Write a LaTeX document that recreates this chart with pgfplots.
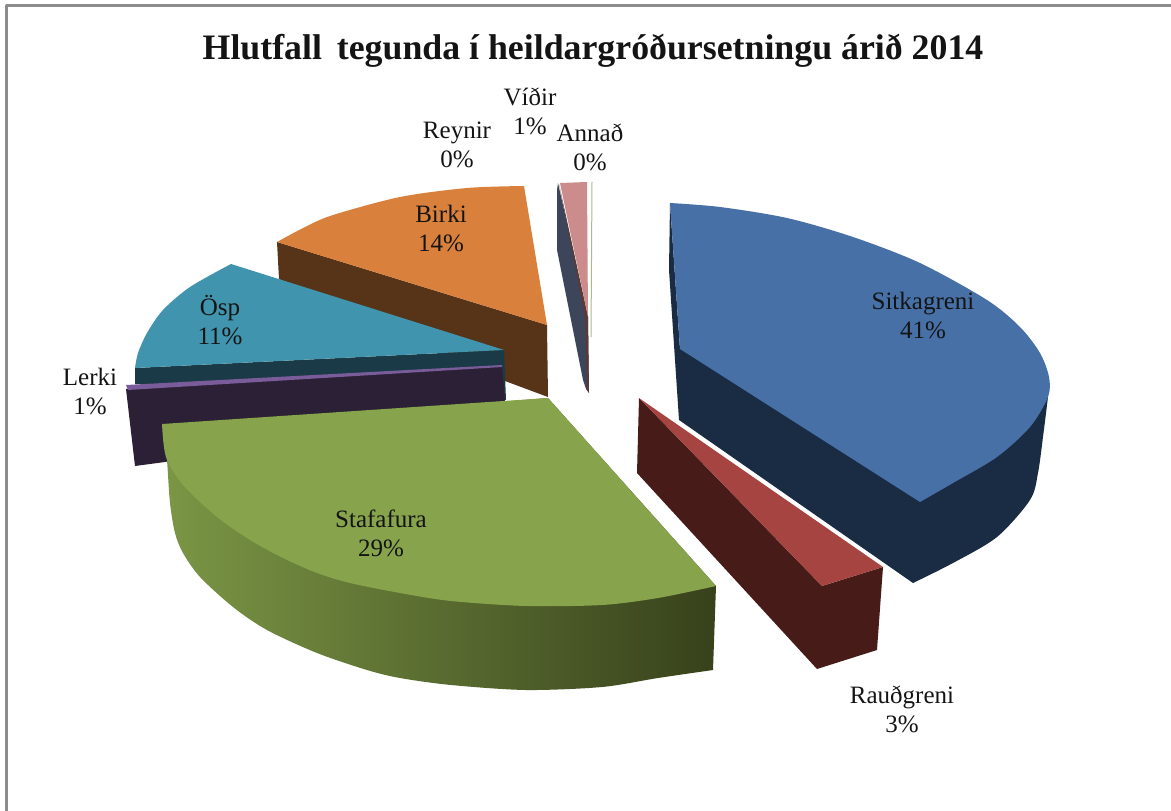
\documentclass[border=0pt]{standalone}
\usepackage{fontspec}
\usepackage{pgfplots}
\pgfplotsset{compat=1.18}
\setmainfont{Liberation Serif}
\definecolor{sitkaT}{HTML}{4670A6}
\definecolor{sitkaS}{HTML}{1A2C44}
\definecolor{raudT}{HTML}{A64442}
\definecolor{raudS}{HTML}{461B18}
\definecolor{stafT}{HTML}{87A44C}
\definecolor{stafL}{HTML}{7B9645}
\definecolor{stafR}{HTML}{37411B}
\definecolor{lerkT}{HTML}{7A5C9B}
\definecolor{lerkS}{HTML}{2B2036}
\definecolor{ospT}{HTML}{4094AD}
\definecolor{ospS}{HTML}{1B3A47}
\definecolor{birkT}{HTML}{D9813C}
\definecolor{birkS}{HTML}{573318}
\definecolor{vidS}{HTML}{3C4559}
\definecolor{annT}{HTML}{CD8C8C}
\definecolor{annS}{HTML}{5A3A38}
\definecolor{annG}{HTML}{A8BB88}
\definecolor{frame}{HTML}{8C8C8C}
\newcommand{\lab}{\fontsize{25}{29}\selectfont}
\tikzset{lbl/.style={font=\lab, align=center, text=black!92, inner sep=0pt}}
\begin{document}
\begin{tikzpicture}
\begin{axis}[
  scale only axis, width=1171pt, height=811pt,
  xmin=0, xmax=1171, ymin=0, ymax=811, y dir=reverse,
  hide axis, clip=true,
  every axis plot/.append style={draw=none, line join=round},
]
\path (axis cs:0,0) rectangle (axis cs:1171,811);
% frame
\addplot[draw=frame, line width=2.6pt] coordinates {(6.5,811)(6.5,5.3)(1171,5.3)};
% Birki side
\addplot[fill=birkS] coordinates {(277,242)(547,325)(548,397)(505,381)(279,279)} -- cycle;
% Birki top
\addplot[fill=birkT, smooth] coordinates {(277,242)(305,227)(333,215)(400,197)(467,188)(524,186)} -- (axis cs:547,325) -- cycle;
% Osp side
\addplot[fill=ospS] coordinates {(135,368)(504,350)(506,400)(135,384)} -- cycle;
% Osp top
\addplot[fill=ospT, smooth] coordinates {(231,264)(190,287)(163,310)(147,333)(138,353)(135,368)} -- (axis cs:504,350) -- cycle;
% Lerki side
\addplot[fill=lerkS] coordinates {(126,389)(502,366)(505,401)(400,420)(165,462)(135,466)} -- cycle;
% Lerki top
\addplot[fill=lerkT] coordinates {(126,385)(502,365)(502,367)(128,390)} -- cycle;
% Stafafura side
\addplot[left color=stafL, right color=stafR, smooth] coordinates {(164,430)(167,460)(170,503)(175,533)(183,553)(200,577)(233,607)(267,630)(317,653)(367,670)(400,678)(451,685)(526,690)(602,687)(658,678)(713,670)} -- (axis cs:716,586) -- (axis cs:548,398) -- cycle;
% Stafafura top
\addplot[fill=stafT, smooth] coordinates {(716,586)(658,598)(602,605)(526,606)(451,601)(400,593)(350,583)(317,573)(283,558)(250,540)(217,517)(183,485)(166,457)(162,424)} -- (axis cs:548,398) -- cycle;
% Annad and Vidir
\addplot[draw=annG, line width=1pt] coordinates {(592,182)(591,337)};
\addplot[fill=vidS] coordinates {(558,183)(557,190)(557,250)(583,380)(586,389)(589,393)(588,317)} -- cycle;
\addplot[fill=annS] coordinates {(559,184)(588,317)(589,393)(587,390)(585,317)} -- cycle;
\addplot[fill=annT] coordinates {(560,183)(587,182)(588,317)} -- cycle;
% Sitkagreni side
\addplot[fill=sitkaS, smooth] coordinates {(913,583)(953,563)(997,537)(1030,500)(1038,473)(1043.5,433)(1048,397)} -- (axis cs:680,349) -- (axis cs:670,203) -- (axis cs:669,270) -- (axis cs:679,420) -- cycle;
% Sitkagreni top
\addplot[fill=sitkaT, smooth] coordinates {(670,203)(720,207)(787,218)(853,237)(920,263)(987,300)(1020,327)(1040,353)(1049,377)(1048,397)(1030,427)(997,457)(953,483)(920,502)} -- (axis cs:680,349) -- cycle;
% Raudgreni side
\addplot[fill=raudS] coordinates {(639,398)(822,586)(883,567)(877,650)(817,669)(637,473)} -- cycle;
% Raudgreni top
\addplot[fill=raudT] coordinates {(639,398)(883,567)(822,586)} -- cycle;
% texts
\node[font=\bfseries\fontsize{35.8}{40}\selectfont, inner sep=0pt, text=black!92] at (axis cs:593,51) {Hlutfall\, tegunda í heildargróðursetningu árið 2014};
\node[lbl] at (axis cs:530,111) {Víðir\\1\%};
\node[lbl] at (axis cs:457,145) {Reynir\\0\%};
\node[lbl] at (axis cs:590,147) {Annað\\0\%};
\node[lbl] at (axis cs:441,228) {Birki\\14\%};
\node[lbl] at (axis cs:220,320) {Ösp\\11\%};
\node[lbl] at (axis cs:90,391) {Lerki\\1\%};
\node[lbl] at (axis cs:923,315) {Sitkagreni\\41\%};
\node[lbl] at (axis cs:381,533) {Stafafura\\29\%};
\node[lbl] at (axis cs:902,709) {Rauðgreni\\3\%};
\end{axis}
\end{tikzpicture}
\end{document}
